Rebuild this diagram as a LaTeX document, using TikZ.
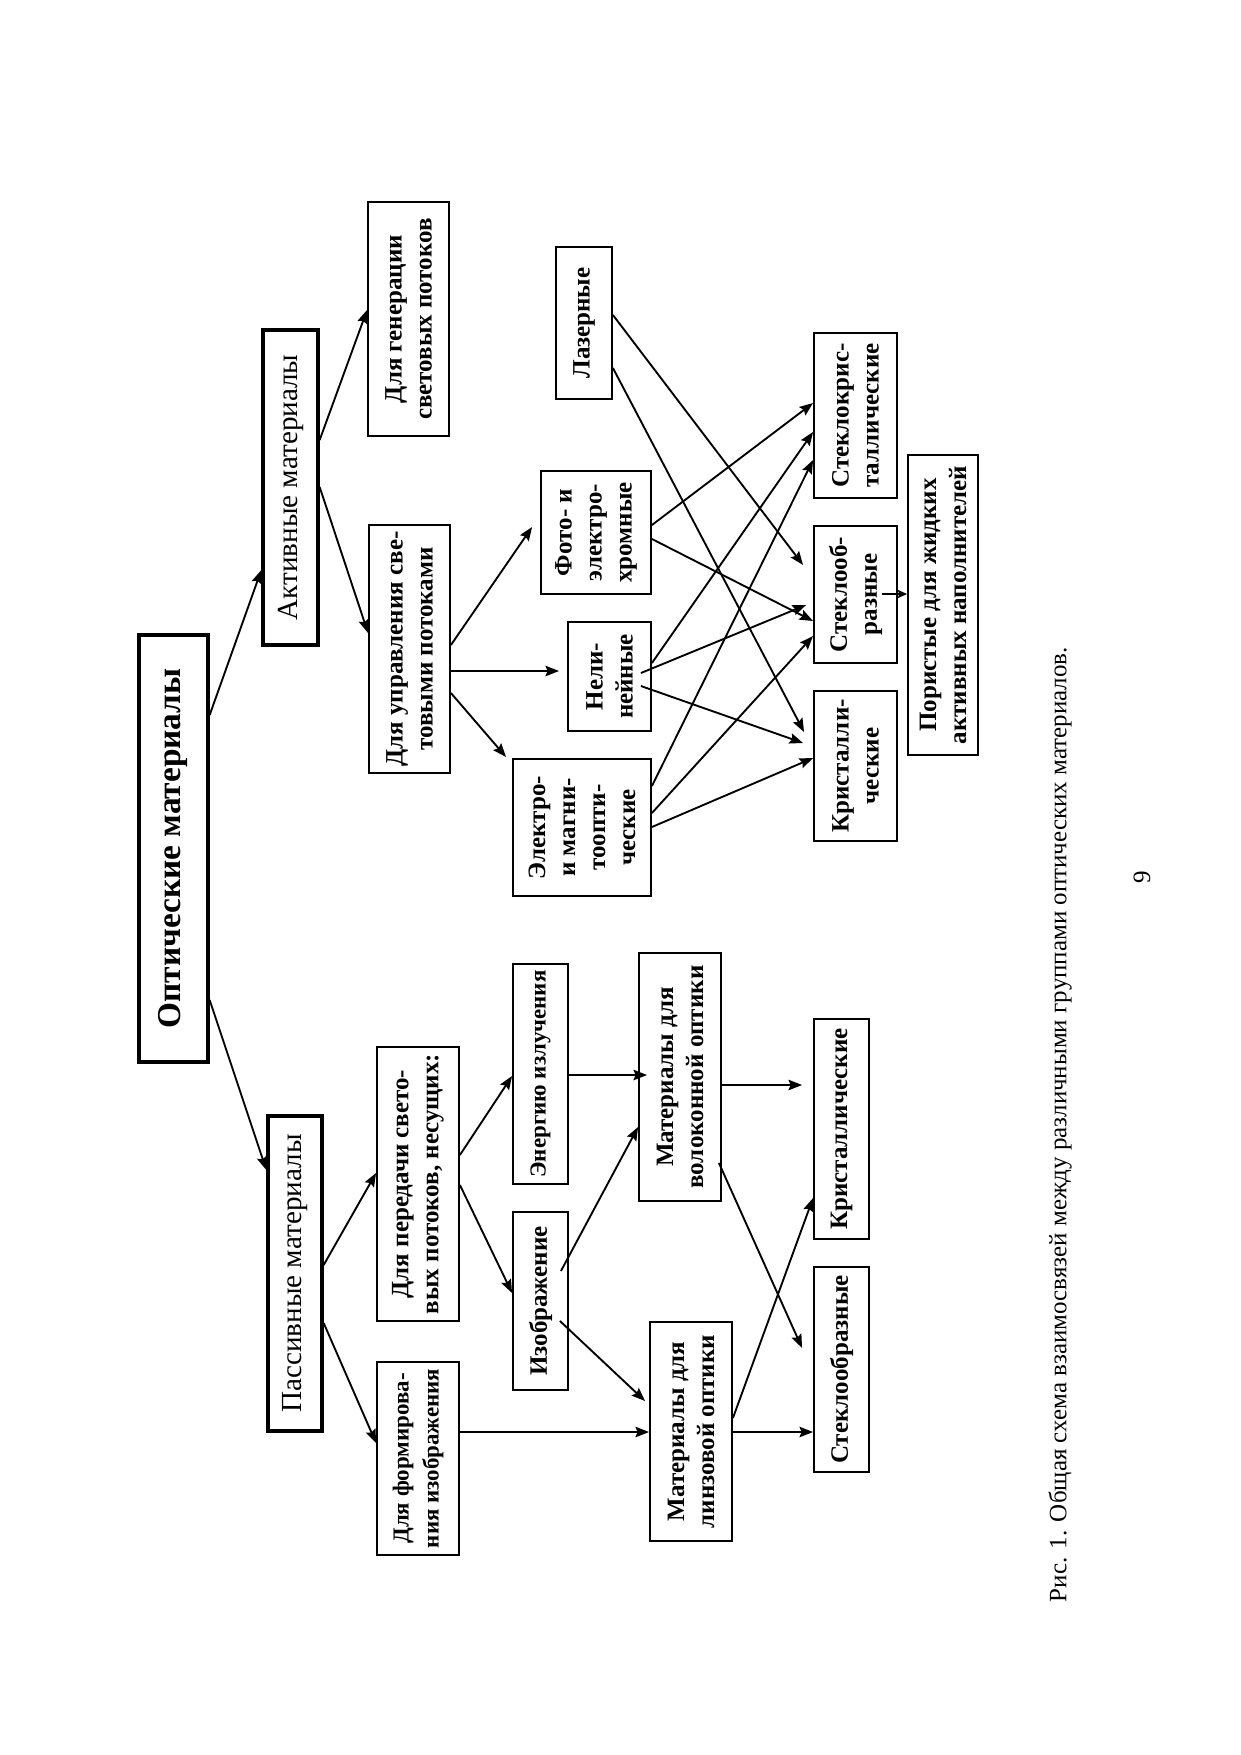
\documentclass[tikz,border=0pt]{standalone}
\usepackage{fontspec}
\setmainfont{Liberation Serif}
\usetikzlibrary{arrows.meta,calc}
\begin{document}
\begin{tikzpicture}[x=0.48pt,y=-0.48pt,
  box/.style={draw, line width=0.9pt, rotate=90, inner sep=0pt, align=center,
    font=\fontsize{12pt}{14.4pt}\selectfont\bfseries},
  smallfont/.style={font=\fontsize{11pt}{14.4pt}\selectfont\bfseries},
  thickbox/.style={box, line width=1.6pt},
  arr/.style={line width=0.9pt, -{Stealth[length=6.5pt,width=5pt,inset=1pt]}},
  smallarr/.style={line width=0.6pt, -{Stealth[length=4.5pt,width=4pt,inset=0.8pt]}},
  plain/.style={rotate=90, inner sep=0pt, font=\fontsize{12pt}{14.4pt}\selectfont}
]
\useasboundingbox (0,0) rectangle (1241,1755);

% top level
\node[thickbox, minimum width=427*0.48pt, minimum height=69*0.48pt,
  font=\fontsize{16pt}{19pt}\selectfont\bfseries] (opt) at (173.5,848.5) {Оптические материалы};
\node[thickbox, minimum width=315*0.48pt, minimum height=55*0.48pt,
  font=\fontsize{14pt}{17pt}\selectfont] (act) at (290.5,487.5) {Активные материалы};
\node[thickbox, minimum width=315*0.48pt, minimum height=54*0.48pt,
  font=\fontsize{14pt}{17pt}\selectfont] (pas) at (295,1273.5) {Пассивные материалы};

% active branch
\node[box, minimum width=234*0.48pt, minimum height=81*0.48pt] (gen) at (408.5,319) {Для генерации\\световых потоков};
\node[box, minimum width=248*0.48pt, minimum height=81*0.48pt] (upr) at (409.5,649) {Для управления све-\\товыми потоками};
\node[box, minimum width=152*0.48pt, minimum height=56*0.48pt] (las) at (584,323) {Лазерные};
\node[box, minimum width=123*0.48pt, minimum height=110*0.48pt] (foto) at (596,532.5) {Фото- и\\электро-\\хромные};
\node[box, minimum width=109*0.48pt, minimum height=83*0.48pt] (neli) at (609.5,676.5) {Нели-\\нейные};
\node[box, minimum width=137*0.48pt, minimum height=138*0.48pt] (elec) at (582,827.5) {Электро-\\и магни-\\тоопти-\\ческие};
\node[box, minimum width=165*0.48pt, minimum height=83*0.48pt] (stkr) at (855.5,415.5) {Стеклокрис-\\таллические};
\node[box, minimum width=137*0.48pt, minimum height=83*0.48pt] (stob) at (855.5,594.5) {Стеклооб-\\разные};
\node[box, minimum width=150*0.48pt, minimum height=83*0.48pt] (kris) at (855.5,766) {Кристалли-\\ческие};
\node[box, minimum width=300*0.48pt, minimum height=70*0.48pt] (por) at (943,605) {Пористые для жидких\\активных наполнителей};

% passive branch
\node[box, minimum width=274*0.48pt, minimum height=82*0.48pt] (per) at (418,1184) {Для передачи свето-\\вых потоков, несущих:};
\node[box, smallfont, minimum width=193*0.48pt, minimum height=82*0.48pt] (form) at (418,1458.5) {Для формирова-\\ния изображения};
\node[box, smallfont, minimum width=220*0.48pt, minimum height=55*0.48pt] (ener) at (540.5,1074) {Энергию излучения};
\node[box, minimum width=178*0.48pt, minimum height=55*0.48pt] (izo) at (540.5,1301) {Изображение};
\node[box, minimum width=248*0.48pt, minimum height=82*0.48pt] (vol) at (680,1077) {Материалы для\\волоконной оптики};
\node[box, minimum width=219*0.48pt, minimum height=82*0.48pt] (lin) at (691,1431.5) {Материалы для\\линзовой оптики};
\node[box, minimum width=220*0.48pt, minimum height=55*0.48pt] (krl) at (841.5,1129) {Кристаллические};
\node[box, minimum width=205*0.48pt, minimum height=55*0.48pt] (stl) at (841.5,1369.5) {Стеклообразные};

% caption and page number
\node[plain] (cap) at (1060,1124.5) {Рис. 1. Общая схема взаимосвязей между различными группами оптических материалов.};
\node[plain] (pnum) at (1142,877) {9};

% connectors
\draw[arr] (opt.south |- 0,715) -- (act.north |- 0,570);
\draw[arr] (opt.south |- 0,1000) -- (pas.north |- 0,1170);
\draw[arr] (act.south |- 0,440) -- (gen.north |- 0,310);
\draw[arr] (act.south |- 0,487) -- (upr.north |- 0,633);
\draw[arr] (upr.south |- 0,645) -- ($(foto.north |- 0,527)+(-8,0)$);
\draw[arr] (upr.south |- 0,671) -- ($(neli.north |- 0,671)+(-8,0)$);
\draw[arr] (upr.south |- 0,693) -- ($(elec.north |- 0,757)+(-6,0)$);
\draw[arr] (las.south |- 0,315) -- ($(stob.north |- 0,565)+(-10,0)$);
\draw[arr] (las.south |- 0,368) -- ($(kris.north |- 0,732)+(-9,0)$);
\draw[arr] (foto.south |- 0,525) -- (stkr.north |- 0,403);
\draw[arr] (foto.south |- 0,539) -- (stob.north |- 0,621);
\draw[arr] (neli.south |- 0,663) -- (stkr.north |- 0,432);
\draw[arr] ($(neli.south |- 0,673)+(-11,0)$) -- ($(stob.north |- 0,605)+(-7,0)$);
\draw[arr] ($(neli.south |- 0,686)+(-11,0)$) -- ($(kris.north |- 0,743)+(-10,0)$);
\draw[arr] (elec.south |- 0,786) -- (stkr.north |- 0,460);
\draw[arr] (elec.south |- 0,813) -- (stob.north |- 0,636);
\draw[arr] (elec.south |- 0,827) -- (kris.north |- 0,758);
\draw[smallarr] ($(stob.south |- 0,594)+(-16,0)$) -- (por.north |- 0,594);

\draw[arr] (pas.south |- 0,1265) -- (per.north |- 0,1173);
\draw[arr] (pas.south |- 0,1323) -- (form.north |- 0,1443);
\draw[arr] (per.south |- 0,1155) -- (ener.north |- 0,1076);
\draw[arr] (per.south |- 0,1185) -- (izo.north |- 0,1293);
\draw[arr] (ener.south |- 0,1075) -- ($(vol.north |- 0,1075)+(9,0)$);
\draw[arr] ($(izo.south |- 0,1271)+(-8,0)$) -- (vol.north |- 0,1127);
\draw[arr] ($(izo.south |- 0,1321)+(-9,0)$) -- ($(lin.north |- 0,1401)+(-4,0)$);
\draw[arr] (form.south |- 0,1432) -- (lin.north |- 0,1432);
\draw[arr] (vol.south |- 0,1085) -- ($(krl.north |- 0,1085)+(-11,0)$);
\draw[arr] ($(vol.south |- 0,1163)+(-3,0)$) -- ($(stl.north |- 0,1348)+(-11,0)$);
\draw[arr] (lin.south |- 0,1418) -- (krl.north |- 0,1198);
\draw[arr] (lin.south |- 0,1432) -- (stl.north |- 0,1432);
\end{tikzpicture}
\end{document}
